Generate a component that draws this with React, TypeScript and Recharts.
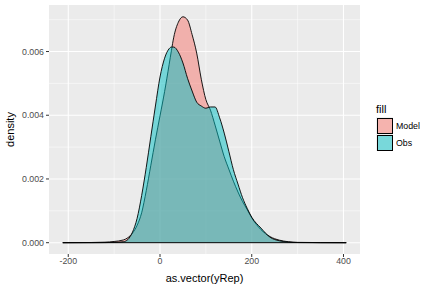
import React from "react";
import {
  AreaChart,
  Area,
  XAxis,
  YAxis,
  CartesianGrid,
  ReferenceLine,
  Legend,
  Label,
} from "recharts";

// density estimates
const xs = [
  -212, -150, -120, -100, -80, -70, -60, -50, -40, -30, -20, -10, 0, 10, 20, 25, 30, 40, 50, 60, 70, 80,
  90, 100, 110, 120, 130, 140, 150, 160, 170, 180, 190, 200, 220, 240, 260, 280, 300, 350, 406,
];
const modelDens = [
  0, 0.000006, 0.000016, 0.000038, 0.000085, 0.000157, 0.0003, 0.00054, 0.00094, 0.00163, 0.00243,
  0.00323, 0.00398, 0.00474, 0.0056, 0.00604, 0.00645, 0.00692, 0.00709, 0.00699, 0.00653, 0.00595,
  0.00513, 0.00449, 0.00416, 0.00369, 0.00319, 0.0027, 0.00231, 0.00193, 0.00159, 0.00129, 0.00104,
  0.00078, 0.00041, 0.00019, 0.00008, 0.00003, 0.00001, 0.000003, 0,
];
const obsDens = [
  0, 0, 0.000003, 0.00001, 0.00003, 0.0001, 0.00033, 0.00076, 0.00148, 0.00236, 0.00333, 0.00429,
  0.0052, 0.00579, 0.00609, 0.00614, 0.00614, 0.00598, 0.00564, 0.00516, 0.00476, 0.00441, 0.00429,
  0.00422, 0.00426, 0.00426, 0.00392, 0.00344, 0.00287, 0.00229, 0.00184, 0.00141, 0.00108, 0.0008,
  0.00046, 0.00017, 0.00006, 0.00002, 0.000005, 0, 0,
];

const seriesNames = ["Model", "Obs"];
const seriesColors = ["#F8766D", "#00BFC4"];

const xTicks = [-200, 0, 200, 400];
const xMinor = [-100, 100, 300];
const yTicks = [0, 0.002, 0.004, 0.006];
const yMinor = [0.001, 0.003, 0.005, 0.007];

const data = xs.map((x, i) => ({ x, Model: modelDens[i], Obs: obsDens[i] }));

const font = '"Liberation Sans", Arial, sans-serif';

function FillLegend() {
  return (
    <div style={{ fontFamily: font }}>
      <div style={{ fontSize: 11, color: "#000", marginBottom: 1, lineHeight: "14px" }}>fill</div>
      {seriesNames.map((name, i) => (
        <div key={name} style={{ display: "flex", alignItems: "center", height: 17 }}>
          <div style={{ width: 17, height: 17, background: "#F2F2F2", position: "relative" }}>
            <div
              style={{
                position: "absolute",
                left: 0.5,
                top: 0.5,
                width: 14.5,
                height: 14.5,
                border: "1px solid #000",
                background: seriesColors[i],
                opacity: 0.5,
              }}
            />
            <div
              style={{
                position: "absolute",
                left: 0.5,
                top: 0.5,
                width: 14.5,
                height: 14.5,
                border: "1px solid #000",
              }}
            />
          </div>
          <span style={{ fontSize: 8.8, color: "#000", marginLeft: 3 }}>{name}</span>
        </div>
      ))}
    </div>
  );
}

export default function App() {
  return (
    <div style={{ position: "absolute", left: 0, top: 0, width: 432, height: 288, background: "#fff" }}>
      <AreaChart
        width={432}
        height={288}
        data={data}
        margin={{ top: 5, right: 72, bottom: 0, left: 0 }}
        style={{ fontFamily: font }}
      >
        <CartesianGrid
          fill="#EBEBEB"
          stroke="#FFFFFF"
          strokeWidth={0.5}
          verticalValues={xMinor}
          horizontalValues={yMinor}
        />
        <CartesianGrid stroke="#FFFFFF" strokeWidth={1.1} verticalValues={xTicks} horizontalValues={yTicks} />
        <XAxis
          dataKey="x"
          type="number"
          domain={[-242, 436]}
          ticks={xTicks}
          allowDataOverflow
          axisLine={false}
          tickSize={3}
          tickMargin={1}
          tickLine={{ stroke: "#333333" }}
          tick={{ fill: "#4D4D4D", fontSize: 8.8 }}
          height={34}
        >
          <Label value="as.vector(yRep)" position="insideBottom" offset={6} fill="#000" fontSize={11} />
        </XAxis>
        <YAxis
          type="number"
          domain={[-0.000355, 0.00746]}
          ticks={yTicks}
          allowDataOverflow
          axisLine={false}
          tickSize={3}
          tickMargin={2}
          tickLine={{ stroke: "#333333" }}
          tick={{ fill: "#4D4D4D", fontSize: 8.8 }}
          tickFormatter={(v: number) => v.toFixed(3)}
          width={49}
        >
          <Label
            value="density"
            angle={-90}
            position="insideLeft"
            offset={10}
            fill="#000"
            fontSize={11}
            style={{ textAnchor: "middle" }}
          />
        </YAxis>
        {seriesNames.map((name, i) => (
          <Area
            key={name}
            dataKey={name}
            name={name}
            type="monotone"
            baseValue={0}
            stroke="#000"
            strokeWidth={0.9}
            fill={seriesColors[i]}
            fillOpacity={0.5}
            isAnimationActive={false}
            dot={false}
            activeDot={false}
          />
        ))}
        <ReferenceLine
          segment={[
            { x: xs[0], y: 0 },
            { x: xs[xs.length - 1], y: 0 },
          ]}
          stroke="#000"
          strokeWidth={1}
        />
        <Legend
          layout="vertical"
          align="center"
          verticalAlign="middle"
          wrapperStyle={{ left: 376, top: 102, width: 60, height: 60 }}
          content={() => <FillLegend />}
        />
      </AreaChart>
    </div>
  );
}
